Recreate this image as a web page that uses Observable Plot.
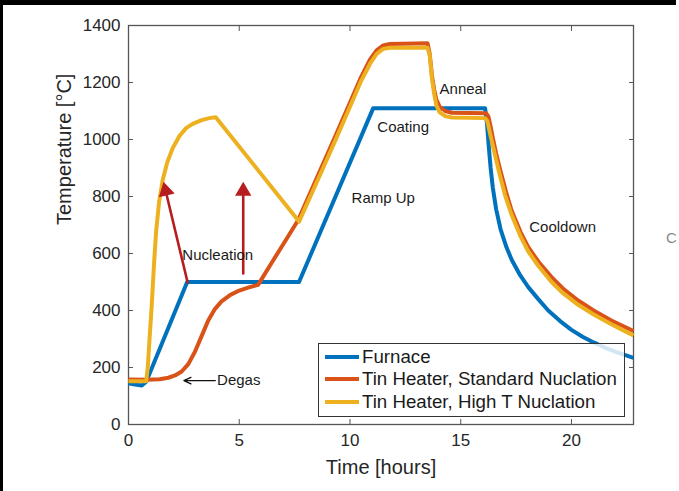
<!DOCTYPE html>
<html>
<head>
<meta charset="utf-8">
<script src="https://cdn.jsdelivr.net/npm/d3@7"></script>
<script src="https://cdn.jsdelivr.net/npm/@observablehq/plot@0.6"></script>
<style>
  html, body { margin: 0; padding: 0; background: white; }
  #wrap { position: relative; width: 679px; height: 491px; overflow: hidden; background: white;
          font-family: "Liberation Sans", Arial, Helvetica, sans-serif; }
  #topbar { position: absolute; left: 0; top: 0; width: 676px; height: 5px; background: #000; }
  #leftbar { position: absolute; left: 0; top: 0; width: 3px; height: 491px; background: #000; }
  #legend { position: absolute; left: 318px; top: 343px; width: 305px; height: 70px;
            border: 1.2px solid #333; background: rgba(255,255,255,0.82); padding-top: 2px; }
  .row { height: 22.3px; display: flex; align-items: center; font-size: 18.7px; color: #1a1a1a; white-space: nowrap; }
  .sw { width: 34px; height: 4px; margin-left: 6px; margin-right: 3px; }
  #edgeC { position: absolute; left: 666px; top: 229px; font-size: 15px; color: #8a8a8a; }
</style>
</head>
<body>
<div id="wrap"></div>
<script>
// ---- data ----
const xTicks = [0, 5, 10, 15, 20];
const yTicks = [0, 200, 400, 600, 800, 1000, 1200, 1400];

const seriesNames = ["Furnace", "Tin Heater, Standard Nuclation", "Tin Heater, High T Nuclation"];
const seriesColors = ["#0072BD", "#D95319", "#EDB120"];

const furnaceTime = [0, 0.3, 0.6, 0.8, 2.65, 7.7, 11.05, 16.1, 16.18, 16.25, 16.35, 16.45, 16.6, 16.8, 17.05, 17.3, 17.65, 18.05, 18.5, 18.95, 19.5, 20.0, 20.5, 21.0, 21.5, 22.0, 22.4, 22.8];
const furnaceTemp = [145, 140, 137, 150, 500, 500, 1110, 1110, 1060, 990, 900, 830, 755, 685, 625, 578, 528, 482, 440, 400, 362, 332, 308, 288, 270, 255, 244, 234];

const standardTime = [0, 0.8, 1.4, 1.8, 2.1, 2.4, 2.7, 3.0, 3.3, 3.6, 3.9, 4.2, 4.6, 5.0, 5.4, 5.85, 6.5, 7.0, 7.65, 8.5, 9.3, 10.0, 10.5, 10.9, 11.2, 11.5, 11.8, 13.5, 13.6, 13.7, 13.8, 13.9, 14.05, 14.3, 14.6, 16.15, 16.25, 16.35, 16.45, 16.6, 16.8, 17.05, 17.3, 17.7, 18.05, 18.5, 19.1, 19.6, 20.3, 21.0, 21.8, 22.3, 22.8];
const standardTemp = [158, 157, 159, 164, 172, 186, 212, 255, 310, 365, 405, 432, 455, 470, 480, 490, 572, 634, 716, 865, 1005, 1130, 1219, 1280, 1313, 1330, 1335, 1338, 1300, 1225, 1175, 1140, 1115, 1100, 1094, 1092, 1080, 1045, 1005, 950, 888, 815, 750, 675, 622, 572, 517, 478, 435, 400, 365, 346, 328];

const highTime = [0, 0.8, 0.87, 0.95, 1.05, 1.15, 1.25, 1.38, 1.55, 1.75, 2.0, 2.3, 2.6, 2.9, 3.3, 3.65, 3.94, 7.7, 8.5, 9.3, 10.0, 10.5, 10.9, 11.2, 11.5, 11.8, 13.5, 13.6, 13.7, 13.8, 13.9, 14.05, 14.3, 14.6, 16.1, 16.2, 16.3, 16.4, 16.55, 16.75, 17.0, 17.3, 17.7, 18.05, 18.5, 19.1, 19.6, 20.3, 21.0, 21.8, 22.3, 22.8];
const highTemp = [152, 152, 200, 300, 420, 560, 680, 780, 860, 920, 970, 1012, 1040, 1055, 1068, 1075, 1078, 712, 850, 990, 1115, 1205, 1265, 1300, 1318, 1322, 1322, 1295, 1215, 1160, 1120, 1095, 1082, 1077, 1075, 1065, 1030, 995, 945, 880, 805, 735, 660, 607, 557, 500, 462, 420, 386, 352, 332, 312];

const annLabels = ["Nucleation", "Coating", "Ramp Up", "Anneal", "Cooldown"];
const annTime = [4.03, 12.4, 11.5, 15.1, 19.6];
const annTemp = [593, 1042, 793, 1175, 691];

const degasLabel = ["Degas"];
const degasTextTime = [4.0];
const degasArrowStart = [3.92];
const degasArrowEnd = [2.5];
const degasTemp = [154];

const redStartTime = [2.67, 5.18];
const redStartTemp = [498, 530];
const redTipTime = [1.58, 5.18];
const redTipTemp = [852, 852];

const xLabel = "Time [hours]";
const yLabel = "Temperature [°C]";

// ---- layout ----
const W = 679, H = 491;
const mL = 128, mR = 46, mT = 25, mB = 67;
const xDomain = [0, 22.8], yDomain = [0, 1400];
const red = "#B71C1F";

const rows = (t, v) => t.map((d, i) => ({t: d, v: v[i]}));
const furnace = rows(furnaceTime, furnaceTemp);
const standard = rows(standardTime, standardTemp);
const high = rows(highTime, highTemp);

// standalone scales to orient the red arrowheads
const sx = Plot.scale({x: {domain: xDomain, range: [mL, W - mR]}});
const sy = Plot.scale({y: {domain: yDomain, range: [H - mB, mT]}});
const headHalf = 4.7; // d3 triangle "y" parameter in px
const headR = Math.sqrt(3 * Math.sqrt(3) * headHalf * headHalf / Math.PI);
const headMarks = redTipTime.map((tt, i) => {
  const px = sx.apply(tt) - sx.apply(redStartTime[i]);
  const py = sy.apply(redTipTemp[i]) - sy.apply(redStartTemp[i]);
  const len = Math.hypot(px, py);
  const ux = px / len, uy = py / len;
  const ang = Math.atan2(px, -py) * 180 / Math.PI;
  return Plot.dot([i], {x: () => tt, y: () => redTipTemp[i], symbol: "triangle", r: headR,
    fill: red, stroke: "none", rotate: ang, dx: -2 * headHalf * ux, dy: -2 * headHalf * uy});
});

const lineOpts = (color) => ({x: "t", y: "v", stroke: color, strokeWidth: 4, strokeLinejoin: "round", strokeLinecap: "butt"});

const chart = Plot.plot({
  width: W, height: H,
  marginLeft: mL, marginRight: mR, marginTop: mT, marginBottom: mB,
  x: {domain: xDomain},
  y: {domain: yDomain},
  style: {fontFamily: "'Liberation Sans', Arial, Helvetica, sans-serif", color: "#262626", background: "transparent", overflow: "visible"},
  marks: [
    Plot.axisX({ticks: xTicks, anchor: "bottom", tickSize: 0, tickPadding: 9, fontSize: 17, label: null, tickFormat: d => String(d)}),
    Plot.axisY({ticks: yTicks, anchor: "left", tickSize: 0, tickPadding: 8, fontSize: 17, label: null, tickFormat: d => String(d)}),
    Plot.axisX({ticks: xTicks, anchor: "bottom", tickSize: -5, label: null, tickFormat: () => "", stroke: "#555"}),
    Plot.axisX({ticks: xTicks, anchor: "top", tickSize: -5, label: null, tickFormat: () => "", stroke: "#555"}),
    Plot.axisY({ticks: yTicks, anchor: "left", tickSize: -5, label: null, tickFormat: () => "", stroke: "#555"}),
    Plot.axisY({ticks: yTicks, anchor: "right", tickSize: -5, label: null, tickFormat: () => "", stroke: "#555"}),
    Plot.frame({stroke: "#555", strokeWidth: 1.3}),
    Plot.line(furnace, lineOpts(seriesColors[0])),
    Plot.line(standard, lineOpts(seriesColors[1])),
    Plot.line(high, lineOpts(seriesColors[2])),
    Plot.arrow([0, 1], {x1: i => redStartTime[i], y1: i => redStartTemp[i], x2: i => redTipTime[i], y2: i => redTipTemp[i],
      stroke: red, strokeWidth: 2.6, headLength: 0, insetEnd: 9}),
    ...headMarks,
    Plot.arrow([0], {x1: i => degasArrowStart[i], y1: i => degasTemp[i], x2: i => degasArrowEnd[i], y2: i => degasTemp[i],
      stroke: "#111", strokeWidth: 1.3, headLength: 9, headAngle: 50}),
    Plot.text(annLabels, {x: (d, i) => annTime[i], y: (d, i) => annTemp[i], text: d => d, fontSize: 15, fill: "#1a1a1a", textAnchor: "middle"}),
    Plot.text(degasLabel, {x: (d, i) => degasTextTime[i], y: (d, i) => degasTemp[i], text: d => d, fontSize: 15, fill: "#1a1a1a", textAnchor: "start"}),
    Plot.text([xLabel], {frameAnchor: "bottom", dy: 43, text: d => d, fontSize: 20, fill: "#262626", lineAnchor: "middle"}),
    Plot.text([yLabel], {frameAnchor: "left", dx: -64, rotate: -90, text: d => d, fontSize: 20, fill: "#262626", lineAnchor: "middle"})
  ]
});

const wrap = document.getElementById("wrap");
wrap.appendChild(chart);

// legend (inside the axes, lower right)
const legend = document.createElement("div");
legend.id = "legend";
seriesNames.forEach((name, i) => {
  const row = document.createElement("div");
  row.className = "row";
  const sw = document.createElement("span");
  sw.className = "sw";
  sw.style.background = seriesColors[i];
  const tx = document.createElement("span");
  tx.textContent = name;
  row.appendChild(sw); row.appendChild(tx);
  legend.appendChild(row);
});
wrap.appendChild(legend);

const edge = document.createElement("div");
edge.id = "edgeC"; edge.textContent = "C";
wrap.appendChild(edge);

const tb = document.createElement("div"); tb.id = "topbar"; wrap.appendChild(tb);
const lb = document.createElement("div"); lb.id = "leftbar"; wrap.appendChild(lb);
</script>
</body>
</html>
